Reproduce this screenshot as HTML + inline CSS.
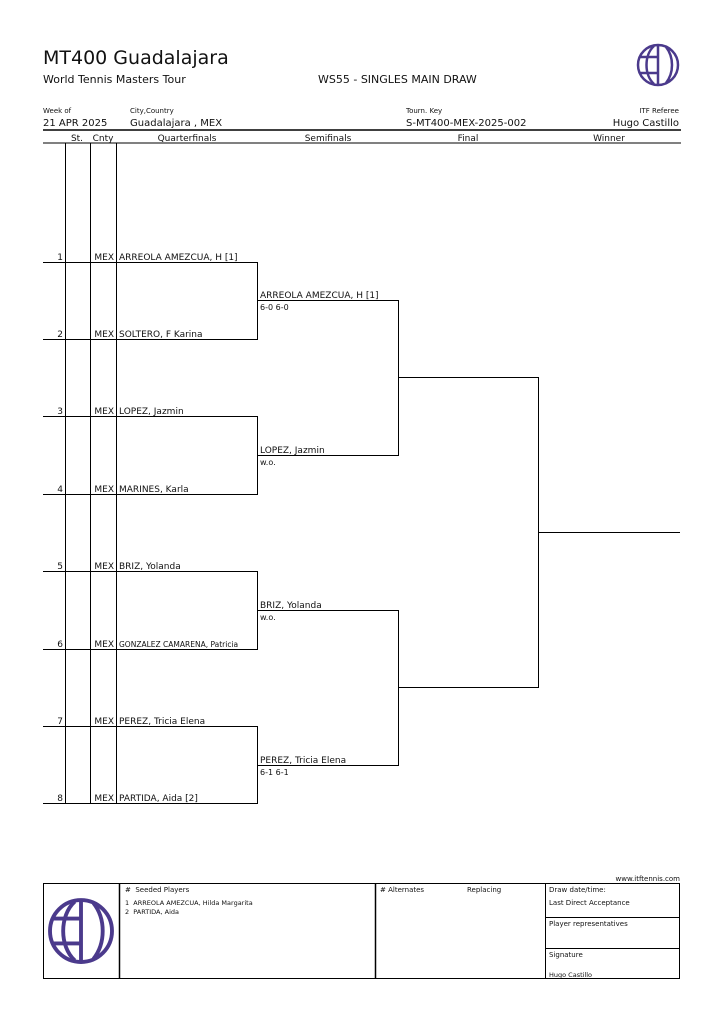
<!DOCTYPE html>
<html><head><meta charset="utf-8"><style>
body{margin:0;background:#fff}
svg{display:block}
text{font-family:"DejaVu Sans","Liberation Sans",sans-serif;fill:#111}
</style></head><body>
<svg width="724" height="1024" viewBox="0 0 724 1024" xmlns="http://www.w3.org/2000/svg">
<defs>
<g id="logo" fill="none" stroke="#4b3a8c" stroke-width="2.5">
<circle cx="0" cy="0" r="20"/>
<line x1="0" y1="-20" x2="0" y2="20"/>
<line x1="-18" y1="-8" x2="0" y2="-8"/>
<line x1="-18" y1="8" x2="0" y2="8"/>
<path d="M-4,-19 C-14,-10 -14,10 -4,19"/>
<path d="M8,-18 C16,-8 16,8 8,18"/>
</g>
</defs>
<text x="43" y="64" font-size="19">MT400 Guadalajara</text>
<text x="43" y="83" font-size="11">World Tennis Masters Tour</text>
<text x="318" y="83" font-size="11">WS55 - SINGLES MAIN DRAW</text>
<use href="#logo" x="658" y="65"/>
<text x="43" y="113" font-size="7">Week of</text>
<text x="130" y="113" font-size="7">City,Country</text>
<text x="406" y="113" font-size="7">Tourn. Key</text>
<text x="679" y="113" font-size="7" text-anchor="end">ITF Referee</text>
<text x="43" y="126" font-size="10">21 APR 2025</text>
<text x="130" y="126" font-size="10">Guadalajara , MEX</text>
<text x="406" y="126" font-size="10">S-MT400-MEX-2025-002</text>
<text x="679" y="126" font-size="10" text-anchor="end">Hugo Castillo</text>
<line x1="43" y1="130" x2="681" y2="130" stroke="#000" stroke-width="1.5"/>
<line x1="43" y1="143" x2="681" y2="143" stroke="#000" stroke-width="1"/>
<g font-size="9" text-anchor="middle">
<text x="77" y="141">St.</text><text x="103" y="141">Cnty</text>
<text x="187" y="141">Quarterfinals</text><text x="328" y="141">Semifinals</text>
<text x="468" y="141">Final</text><text x="609" y="141">Winner</text>
</g>
<g stroke="#000" stroke-width="1" fill="none">
<line x1="65.5" y1="143" x2="65.5" y2="803"/>
<line x1="90.5" y1="143" x2="90.5" y2="803"/>
<line x1="116.5" y1="143" x2="116.5" y2="803"/>
<line x1="43" y1="262.5" x2="257" y2="262.5"/>
<line x1="43" y1="339.5" x2="257" y2="339.5"/>
<line x1="43" y1="416.5" x2="257" y2="416.5"/>
<line x1="43" y1="494.5" x2="257" y2="494.5"/>
<line x1="43" y1="571.5" x2="257" y2="571.5"/>
<line x1="43" y1="649.5" x2="257" y2="649.5"/>
<line x1="43" y1="726.5" x2="257" y2="726.5"/>
<line x1="43" y1="803.5" x2="257" y2="803.5"/>
<line x1="257.5" y1="262" x2="257.5" y2="340"/>
<line x1="257.5" y1="416" x2="257.5" y2="495"/>
<line x1="257.5" y1="571" x2="257.5" y2="650"/>
<line x1="257.5" y1="726" x2="257.5" y2="804"/>
<line x1="257" y1="300.5" x2="398" y2="300.5"/>
<line x1="257" y1="455.5" x2="398" y2="455.5"/>
<line x1="257" y1="610.5" x2="398" y2="610.5"/>
<line x1="257" y1="765.5" x2="398" y2="765.5"/>
<line x1="398.5" y1="300" x2="398.5" y2="456"/>
<line x1="398.5" y1="610" x2="398.5" y2="766"/>
<line x1="398" y1="377.5" x2="538" y2="377.5"/>
<line x1="398" y1="687.5" x2="538" y2="687.5"/>
<line x1="538.5" y1="377" x2="538.5" y2="688"/>
<line x1="538" y1="532.5" x2="680" y2="532.5"/>
</g>
<g font-size="9">
<g text-anchor="end">
<text x="63" y="260">1</text><text x="63" y="337">2</text><text x="63" y="414">3</text><text x="63" y="492">4</text>
<text x="63" y="569">5</text><text x="63" y="647">6</text><text x="63" y="724">7</text><text x="63" y="801">8</text>
<text x="114" y="260">MEX</text><text x="114" y="337">MEX</text><text x="114" y="414">MEX</text><text x="114" y="492">MEX</text>
<text x="114" y="569">MEX</text><text x="114" y="647">MEX</text><text x="114" y="724">MEX</text><text x="114" y="801">MEX</text>
</g>
<text x="119" y="260">ARREOLA AMEZCUA, H [1]</text>
<text x="119" y="337">SOLTERO, F Karina</text>
<text x="119" y="414">LOPEZ, Jazmin</text>
<text x="119" y="492">MARINES, Karla</text>
<text x="119" y="569">BRIZ, Yolanda</text>
<text x="119" y="647" font-size="7.5">GONZALEZ CAMARENA, Patricia</text>
<text x="119" y="724">PEREZ, Tricia Elena</text>
<text x="119" y="801">PARTIDA, Aida [2]</text>
<text x="260" y="298">ARREOLA AMEZCUA, H [1]</text><text x="260" y="310" font-size="8">6-0 6-0</text>
<text x="260" y="453">LOPEZ, Jazmin</text><text x="260" y="465" font-size="8">w.o.</text>
<text x="260" y="608">BRIZ, Yolanda</text><text x="260" y="620" font-size="8">w.o.</text>
<text x="260" y="763">PEREZ, Tricia Elena</text><text x="260" y="775" font-size="8">6-1 6-1</text>
</g>
<text x="680" y="881" font-size="7" text-anchor="end">www.itftennis.com</text>
<g stroke="#000" fill="none">
<rect x="43.5" y="883.5" width="636" height="95" stroke-width="1"/>
<line x1="119.5" y1="883" x2="119.5" y2="979" stroke-width="1.5"/>
<line x1="375.5" y1="883" x2="375.5" y2="979" stroke-width="1.5"/>
<line x1="545.5" y1="883" x2="545.5" y2="979" stroke-width="1"/>
<line x1="545" y1="917.5" x2="680" y2="917.5"/>
<line x1="545" y1="948.5" x2="680" y2="948.5"/>
</g>
<use href="#logo" x="81" y="931" transform="translate(81 931) scale(1.55) translate(-81 -931)"/>
<g font-size="7">
<text x="125" y="892">#&#160; Seeded Players</text>
<text x="125" y="905" font-size="6.5">1&#160; ARREOLA AMEZCUA, Hilda Margarita</text>
<text x="125" y="914" font-size="6.5">2&#160; PARTIDA, Aida</text>
<text x="380" y="892">#  Alternates</text>
<text x="467" y="892">Replacing</text>
<text x="549" y="892">Draw date/time:</text>
<text x="549" y="905">Last Direct Acceptance</text>
<text x="549" y="926">Player representatives</text>
<text x="549" y="957">Signature</text>
<text x="549" y="977" font-size="6.5">Hugo Castillo</text>
</g>
</svg>
</body></html>
